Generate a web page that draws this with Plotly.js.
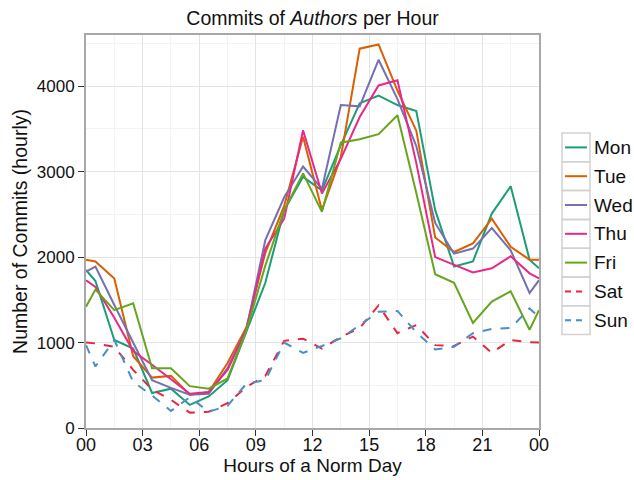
<!DOCTYPE html>
<html>
<head>
<meta charset="utf-8">
<script src="https://cdn.plot.ly/plotly-3.0.1.min.js"></script>
<style>html,body{margin:0;padding:0;background:#fff;}</style>
</head>
<body>
<div id="chart" style="width:634px;height:480px;"></div>
<script>
// Hours (half-hour centres, plus the day's start and end)
const hours = [0, 0.5, 1.5, 2.5, 3.5, 4.5, 5.5, 6.5, 7.5, 8.5, 9.5, 10.5, 11.5, 12.5, 13.5, 14.5, 15.5, 16.5, 17.5, 18.5, 19.5, 20.5, 21.5, 22.5, 23.5, 24];
const dayNames = ["Mon", "Tue", "Wed", "Thu", "Fri", "Sat", "Sun"];
const tickHours = [0, 3, 6, 9, 12, 15, 18, 21, 24];
const tickLabels = ["00", "03", "06", "09", "12", "15", "18", "21", "00"];

const mon = [1850, 1720, 1030, 930, 410, 460, 270, 370, 560, 1130, 1700, 2550, 2940, 2780, 3310, 3800, 3890, 3780, 3710, 2550, 1890, 1950, 2510, 2830, 1970, 1870];
const tue = [1970, 1950, 1750, 840, 590, 610, 390, 420, 760, 1180, 2050, 2600, 3410, 2550, 3170, 4440, 4490, 3950, 3480, 2230, 2060, 2160, 2450, 2120, 1970, 1970];
const wed = [1830, 1890, 1440, 990, 560, 470, 390, 400, 700, 1160, 2200, 2700, 3060, 2800, 3780, 3765, 4310, 3850, 3300, 2400, 2040, 2100, 2340, 2080, 1580, 1730];
const thu = [1730, 1650, 1290, 900, 740, 565, 400, 420, 680, 1150, 2100, 2450, 3485, 2745, 3150, 3640, 4010, 4070, 3100, 2000, 1910, 1820, 1870, 2010, 1810, 1750];
const fri = [1420, 1620, 1380, 1460, 700, 700, 490, 460, 580, 1140, 1900, 2550, 2980, 2530, 3340, 3380, 3440, 3660, 2750, 1800, 1700, 1230, 1480, 1600, 1150, 1380];
const sat = [1000, 990, 950, 680, 450, 330, 180, 190, 290, 480, 610, 1020, 1045, 930, 1065, 1170, 1435, 1110, 1205, 970, 960, 1070, 880, 1030, 1005, 1000];
const sun = [970, 720, 1030, 540, 380, 200, 360, 190, 260, 520, 560, 1000, 880, 960, 1050, 1200, 1360, 1370, 1120, 920, 950, 1110, 1160, 1170, 1400, 1300];

const seriesValues = [mon, tue, wed, thu, fri, sat, sun];
const colors = ["#1b9e77", "#d95f02", "#7570b3", "#e7298a", "#66a61e", "#e4283e", "#4a8fc6"];
const dashes = ["solid", "solid", "solid", "solid", "solid", "dash", "dash"];

const traces = dayNames.map((name, i) => ({
  x: hours,
  y: seriesValues[i],
  name: name,
  type: "scatter",
  mode: "lines",
  showlegend: false,
  line: {color: colors[i], width: 2, dash: dashes[i]}
}));

// Legend drawn as boxed keys at the right of the plot
const plotL = 86, plotR = 539, plotT = 35, plotB = 428;
const px = v => (v - plotL) / (plotR - plotL);
const py = v => (plotB - v) / (plotB - plotT);
const shapes = [];
const annotations = [];
const boxTop = 133, boxH = 28.8, boxL = 562, boxR = 590;
dayNames.forEach((name, i) => {
  const top = boxTop + boxH * i, bot = top + boxH, mid = (top + bot) / 2;
  shapes.push({
    type: "rect", xref: "paper", yref: "paper", layer: "above",
    x0: px(boxL), x1: px(boxR), y0: py(bot), y1: py(top),
    line: {color: "#d2d2d2", width: 1.5}
  });
  shapes.push({
    type: "line", xref: "paper", yref: "paper", layer: "above",
    x0: px(565), x1: px(587), y0: py(mid), y1: py(mid),
    line: {color: colors[i], width: 2, dash: dashes[i] === "dash" ? "6px,5px" : "solid"}
  });
  annotations.push({
    xref: "paper", yref: "paper", x: px(592), y: py(mid),
    xanchor: "left", yanchor: "middle", showarrow: false,
    text: name, font: {size: 19, color: "#111"}
  });
});

const layout = {
  width: 634, height: 480,
  margin: {l: plotL, r: 634 - plotR, t: plotT, b: 480 - plotB},
  paper_bgcolor: "#ffffff",
  plot_bgcolor: "#ffffff",
  showlegend: false,
  font: {family: "Liberation Sans, Arial, sans-serif", color: "#111"},
  title: {text: "Commits of <i>Authors</i> per Hour", x: 0.493, xanchor: "center", y: 0.963, yanchor: "middle", font: {size: 19.5, color: "#111"}},
  xaxis: {
    range: [0, 24], tickvals: tickHours, ticktext: tickLabels,
    ticks: "outside", ticklen: 6, tickcolor: "#333", tickwidth: 1,
    ticklabelstandoff: -7,
    showline: true, linecolor: "#a8a8a8", linewidth: 2, mirror: true,
    showgrid: true, gridcolor: "#e4e4e4", gridwidth: 1,
    minor: {dtick: 1.5, tick0: 0, showgrid: true, gridcolor: "#f3f3f3", gridwidth: 1},
    zeroline: false,
    tickfont: {size: 18, color: "#111"},
    title: {text: "Hours of a Norm Day", font: {size: 19, color: "#111"}, standoff: 0}
  },
  yaxis: {
    range: [0, 4600], tickvals: [0, 1000, 2000, 3000, 4000],
    ticks: "outside", ticklen: 6, tickcolor: "#333", tickwidth: 1,
    showline: true, linecolor: "#a8a8a8", linewidth: 2, mirror: true,
    showgrid: true, gridcolor: "#e4e4e4", gridwidth: 1,
    minor: {dtick: 500, tick0: 0, showgrid: true, gridcolor: "#f3f3f3", gridwidth: 1},
    zeroline: false,
    tickfont: {size: 17, color: "#111"},
    title: {text: "Number of Commits (hourly)", font: {size: 19.5, color: "#111"}, standoff: 4}
  },
  shapes: shapes,
  annotations: annotations
};

Plotly.newPlot("chart", traces, layout, {displayModeBar: false, staticPlot: true});
</script>
</body>
</html>
